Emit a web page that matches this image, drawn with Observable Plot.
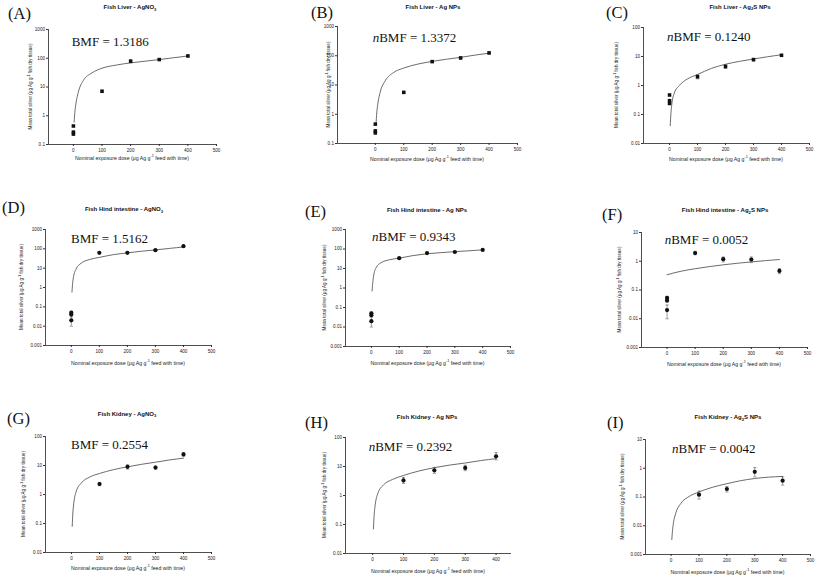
<!DOCTYPE html>
<html><head><meta charset="utf-8">
<script src="https://cdn.jsdelivr.net/npm/d3@7"></script>
<script src="https://cdn.jsdelivr.net/npm/@observablehq/plot@0.6"></script>
<style>
html,body{margin:0;padding:0;background:#fff}
#root{position:relative;width:817px;height:577px;overflow:hidden}
#root .panel{position:absolute}
#overlay{position:absolute;left:0;top:0;pointer-events:none}
</style>
</head><body>
<div id="root"></div>
<script>
// ---------------- DATA ----------------
const panelLetters = ["(A)","(B)","(C)","(D)","(E)","(F)","(G)","(H)","(I)"];
const titleMain = ["Fish Liver - AgNO","Fish Liver - Ag NPs","Fish Liver - Ag",
  "Fish Hind intestine - AgNO","Fish Hind intestine - Ag NPs","Fish Hind intestine - Ag",
  "Fish Kidney - AgNO","Fish Kidney - Ag NPs","Fish Kidney - Ag"];
const titleSub = ["3","","2","3","","2","3","","2"];
const titleTail = ["","","S NPs","","","S NPs","","","S NPs"];
const bmfPrefix = ["","n","n","","n","n","","n","n"];
const bmfLabel = ["BMF = 1.3186","BMF = 1.3372","BMF = 0.1240","BMF = 1.5162","BMF = 0.9343",
  "BMF = 0.0052","BMF = 0.2554","BMF = 0.2392","BMF = 0.0042"];
const yAxisLabel = ["Mean total silver (\u03bcg Ag g","-1"," fish dry tissue)"];
const xAxisLabel = ["Nominal exposure dose (\u03bcg Ag g","-1"," feed with time)"];

const yTicksA = [0.1, 1, 10, 100, 1000];
const yTicksC = [0.01, 0.1, 1, 10, 100];
const yTicksD = [0.001, 0.01, 0.1, 1, 10, 100, 1000];
const yTicksF = [0.001, 0.01, 0.1, 1, 10];
const yTicksI = [0.001, 0.01, 0.1, 1, 10];
const xTicksFull = [0, 100, 200, 300, 400, 500];
const xTicksShort = [0, 100, 200, 300, 400];

const doseWithControls = [0, 0, 0, 100, 200, 300, 400];
const doseExposedOnly = [100, 200, 300, 400];
const fitDose = [2.4, 5, 8, 17, 35, 65, 100, 150, 200, 250, 300, 350, 400];
const fitDoseF = [0, 50, 100, 150, 200, 250, 300, 350, 400];

const liverAgNO3 = [0.44, 0.27, 0.23, 7.1, 79, 90, 120];
const liverAgNO3Low = [0.44, 0.27, 0.23, 6.6, 70, 85, 114];
const liverAgNO3High = [0.44, 0.27, 0.23, 7.7, 88, 95, 127];
const liverAgNO3Fit = [0.6, 1.3, 2.3, 6.5, 17, 31, 45, 58, 69, 79, 90, 104, 120];

const liverAgNP = [0.46, 0.27, 0.23, 5.6, 63, 84, 125];
const liverAgNPLow = [0.46, 0.27, 0.23, 5.2, 59, 78, 115];
const liverAgNPHigh = [0.46, 0.27, 0.23, 6.0, 68, 91, 135];
const liverAgNPFit = [0.44, 1.1, 2.0, 5.6, 14, 27, 38, 52, 64, 76, 88, 105, 122];

const liverAg2S = [0.47, 0.30, 0.24, 2.0, 4.5, 7.8, 11];
const liverAg2SLow = [0.47, 0.30, 0.24, 1.7, 3.9, 7.0, 10.3];
const liverAg2SHigh = [0.47, 0.30, 0.24, 2.35, 5.2, 8.6, 11.8];
const liverAg2SFit = [0.041, 0.11, 0.22, 0.55, 1.0, 1.7, 2.4, 3.9, 5.4, 6.8, 8.2, 9.8, 11.5];

const intestineAgNO3 = [0.05, 0.04, 0.02, 62, 62, 85, 137];
const intestineAgNO3Low = [0.045, 0.036, 0.01, 58, 58, 80, 125];
const intestineAgNO3High = [0.058, 0.045, 0.03, 66, 67, 90, 150];
const intestineAgNO3Fit = [0.58, 1.8, 3.6, 9, 18, 28, 36, 50, 62, 75, 88, 105, 125];

const intestineAgNP = [0.05, 0.04, 0.02, 34, 62, 70, 90];
const intestineAgNPLow = [0.045, 0.036, 0.01, 31, 58, 66, 83];
const intestineAgNPHigh = [0.058, 0.045, 0.032, 37, 67, 75, 98];
const intestineAgNPFit = [0.7, 1.9, 4.2, 11, 20, 28, 34, 46, 57, 65, 73, 81, 90];

const intestineAg2S = [0.053, 0.043, 0.02, 1.93, 1.18, 1.15, 0.46];
const intestineAg2SLow = [0.047, 0.038, 0.01, 1.7, 0.95, 0.9, 0.37];
const intestineAg2SHigh = [0.06, 0.05, 0.03, 2.2, 1.4, 1.4, 0.55];
const intestineAg2SFit = [0.34, 0.45, 0.55, 0.65, 0.75, 0.85, 0.95, 1.05, 1.15];

const kidneyAgNO3 = [2.3, 9, 8.5, 24];
const kidneyAgNO3Low = [2.0, 7.5, 7.5, 21];
const kidneyAgNO3High = [2.6, 10.5, 9.5, 28];
const kidneyAgNO3Fit = [0.08, 0.25, 0.5, 1.3, 2.5, 4, 5.3, 7.2, 9, 11, 13, 15.5, 18];

const kidneyAgNP = [3.3, 7.4, 8.9, 22.5];
const kidneyAgNPLow = [2.6, 5.8, 7.2, 17];
const kidneyAgNPHigh = [4.2, 9.3, 11, 30];
const kidneyAgNPFit = [0.07, 0.22, 0.45, 1.2, 2.3, 3.6, 4.9, 7, 9.1, 11.2, 13.2, 16, 18.6];

const kidneyAg2S = [0.12, 0.19, 0.75, 0.37];
const kidneyAg2SLow = [0.085, 0.15, 0.5, 0.26];
const kidneyAg2SHigh = [0.16, 0.23, 1.05, 0.5];
const kidneyAg2SFit = [0.0033, 0.007, 0.012, 0.028, 0.06, 0.105, 0.15, 0.22, 0.29, 0.37, 0.44, 0.49, 0.52];

const xDomains = [[-87,500],[-133,500],[-93,500],[-92,500],[-93,500],[-91,500],[-93,500],[-88,450],[-92,500]];
const yDomains = [[0.1,1000],[0.1,1000],[0.01,100],[0.001,1000],[0.001,1000],[0.001,10],[0.01,100],[0.01,100],[0.001,10]];

// ---------------- LAYOUT ----------------
const frames = [
  {l:48, r:216, t:29, b:144}, {l:337, r:517, t:26, b:143}, {l:643, r:809, t:27, b:143},
  {l:45, r:211, t:229, b:345}, {l:345, r:510, t:229, b:346}, {l:641, r:807, t:232, b:347},
  {l:45, r:211, t:436, b:552}, {l:345, r:511, t:437, b:553}, {l:645, r:810, t:439, b:554}
];
const letterPos = [[8,18.5],[311,17.7],[606,17.7],[2,213],[305,217],[602,220],[7,424],[305,428],[607,428]];
const titlePos = [[130,9.3],[433,9],[740,8.7],[124,211],[427,212],[725,212],[127,415.5],[427,419],[728,419]];
const bmfPos = [[71.7,46],[372.7,41.5],[667,41],[71,242.5],[372,240.5],[664.7,244],[71,449],[368.7,450.5],[672,453]];
const yLabX = [30,328,616,21,324,619,23,324,622];
const xLabY = [157.5,159,159,363,363,364,568,571,572];

const panels = [
  {x: doseWithControls, y: liverAgNO3, lo: liverAgNO3Low, hi: liverAgNO3High, fx: fitDose, fy: liverAgNO3Fit, yt: yTicksA, xt: xTicksFull, sym: "square"},
  {x: doseWithControls, y: liverAgNP, lo: liverAgNPLow, hi: liverAgNPHigh, fx: fitDose, fy: liverAgNPFit, yt: yTicksA, xt: xTicksFull, sym: "square"},
  {x: doseWithControls, y: liverAg2S, lo: liverAg2SLow, hi: liverAg2SHigh, fx: fitDose, fy: liverAg2SFit, yt: yTicksC, xt: xTicksFull, sym: "square"},
  {x: doseWithControls, y: intestineAgNO3, lo: intestineAgNO3Low, hi: intestineAgNO3High, fx: fitDose, fy: intestineAgNO3Fit, yt: yTicksD, xt: xTicksFull, sym: "circle"},
  {x: doseWithControls, y: intestineAgNP, lo: intestineAgNPLow, hi: intestineAgNPHigh, fx: fitDose, fy: intestineAgNPFit, yt: yTicksD, xt: xTicksFull, sym: "circle"},
  {x: doseWithControls, y: intestineAg2S, lo: intestineAg2SLow, hi: intestineAg2SHigh, fx: fitDoseF, fy: intestineAg2SFit, yt: yTicksF, xt: xTicksFull, sym: "circle"},
  {x: doseExposedOnly, y: kidneyAgNO3, lo: kidneyAgNO3Low, hi: kidneyAgNO3High, fx: fitDose, fy: kidneyAgNO3Fit, yt: yTicksC, xt: xTicksFull, sym: "circle"},
  {x: doseExposedOnly, y: kidneyAgNP, lo: kidneyAgNPLow, hi: kidneyAgNPHigh, fx: fitDose, fy: kidneyAgNPFit, yt: yTicksC, xt: xTicksShort, sym: "circle"},
  {x: doseExposedOnly, y: kidneyAg2S, lo: kidneyAg2SLow, hi: kidneyAg2SHigh, fx: fitDose, fy: kidneyAg2SFit, yt: yTicksI, xt: xTicksFull, sym: "circle"}
];

const capSymbol = { draw(ctx, size) { const w = Math.sqrt(size / Math.PI); ctx.moveTo(-w, 0); ctx.lineTo(w, 0); } };

const root = document.getElementById("root");
const mL = 34, mR = 8, mT = 6, mB = 12;

panels.forEach((p, k) => {
  const f = frames[k];
  const pts = p.x.map((x, i) => ({x, y: p.y[i], lo: p.lo[i], hi: p.hi[i]}));
  const bars = pts.filter(d => d.hi > d.lo);
  const caps = bars.flatMap(d => [{x: d.x, y: d.lo}, {x: d.x, y: d.hi}]);
  const fit = p.fx.map((x, i) => ({x, y: p.fy[i]}));
  const chart = Plot.plot({
    width: mL + (f.r - f.l) + mR,
    height: mT + (f.b - f.t) + mB,
    marginLeft: mL, marginRight: mR, marginTop: mT, marginBottom: mB,
    style: {fontFamily: "'Liberation Sans', Arial, sans-serif", fontSize: "4.6px", background: "transparent", color: "#222", overflow: "visible"},
    x: {domain: xDomains[k]},
    y: {type: "log", domain: yDomains[k]},
    marks: [
      Plot.axisY({ticks: p.yt, tickFormat: d => String(d), tickSize: 2, tickPadding: 1.5, label: null, stroke: "#333"}),
      Plot.axisX({ticks: p.xt, tickFormat: d => String(d), tickSize: 2, tickPadding: 2.5, label: null, stroke: "#333"}),
      Plot.ruleX([xDomains[k][0]], {stroke: "#222", strokeWidth: 0.8}),
      Plot.ruleY([yDomains[k][0]], {stroke: "#222", strokeWidth: 0.8}),
      Plot.line(fit, {x: "x", y: "y", curve: "monotone-x", stroke: "#5a5a5a", strokeWidth: 0.9}),
      Plot.ruleX(bars, {x: "x", y1: "lo", y2: "hi", stroke: "#555", strokeWidth: 0.6}),
      Plot.dot(caps, {x: "x", y: "y", symbol: capSymbol, r: 1.6, fill: "none", stroke: "#555", strokeWidth: 0.6}),
      Plot.dot(pts, {x: "x", y: "y", symbol: p.sym, r: p.sym === "square" ? 2.0 : 2.1, fill: "#111", stroke: "none"})
    ]
  });
  chart.classList.add("panel");
  chart.style.left = (f.l - mL) + "px";
  chart.style.top = (f.t - mT) + "px";
  root.appendChild(chart);
});

// ---------------- TEXT OVERLAY ----------------
const svg = d3.select(root).append("svg").attr("id", "overlay").attr("width", 817).attr("height", 577);
panels.forEach((p, k) => {
  const f = frames[k];
  // panel letter
  svg.append("text").attr("x", letterPos[k][0]).attr("y", letterPos[k][1])
    .attr("font-family", "'Liberation Serif', 'Times New Roman', serif").attr("font-size", 16.5).attr("fill", "#111")
    .text(panelLetters[k]);
  // title
  const t = svg.append("text").attr("x", titlePos[k][0]).attr("y", titlePos[k][1]).attr("text-anchor", "middle")
    .attr("font-family", "'Liberation Sans', Arial, sans-serif").attr("font-weight", "bold").attr("font-size", 6).attr("fill", "#111");
  t.append("tspan").text(titleMain[k]);
  if (titleSub[k]) {
    t.append("tspan").attr("font-size", 4.2).attr("dy", 1.5).text(titleSub[k]);
    if (titleTail[k]) t.append("tspan").attr("dy", -1.5).text(titleTail[k]);
  }
  // BMF annotation
  const b = svg.append("text").attr("x", bmfPos[k][0]).attr("y", bmfPos[k][1])
    .attr("font-family", "'Liberation Serif', 'Times New Roman', serif").attr("font-size", 13).attr("fill", "#111");
  if (bmfPrefix[k]) b.append("tspan").attr("font-style", "italic").text(bmfPrefix[k]);
  b.append("tspan").text(bmfLabel[k]);
  // y axis label
  const cy = (f.t + f.b) / 2;
  const yl = svg.append("text").attr("transform", `translate(${yLabX[k]},${cy}) rotate(-90)`)
    .attr("text-anchor", "middle").attr("dominant-baseline", "central")
    .attr("font-family", "'Liberation Sans', Arial, sans-serif").attr("font-size", 4.6).attr("fill", "#222");
  yl.append("tspan").text(yAxisLabel[0]);
  yl.append("tspan").attr("font-size", 3.4).attr("dy", -1.4).text(yAxisLabel[1]);
  yl.append("tspan").attr("dy", 1.4).text(yAxisLabel[2]);
  // x axis label
  const xl = svg.append("text").attr("x", (f.l + f.r) / 2).attr("y", xLabY[k]).attr("text-anchor", "middle")
    .attr("dominant-baseline", "central")
    .attr("font-family", "'Liberation Sans', Arial, sans-serif").attr("font-size", 5.2).attr("fill", "#222");
  xl.append("tspan").text(xAxisLabel[0]);
  xl.append("tspan").attr("font-size", 3.8).attr("dy", -1.6).text(xAxisLabel[1]);
  xl.append("tspan").attr("dy", 1.6).text(xAxisLabel[2]);
});
</script>
</body></html>
